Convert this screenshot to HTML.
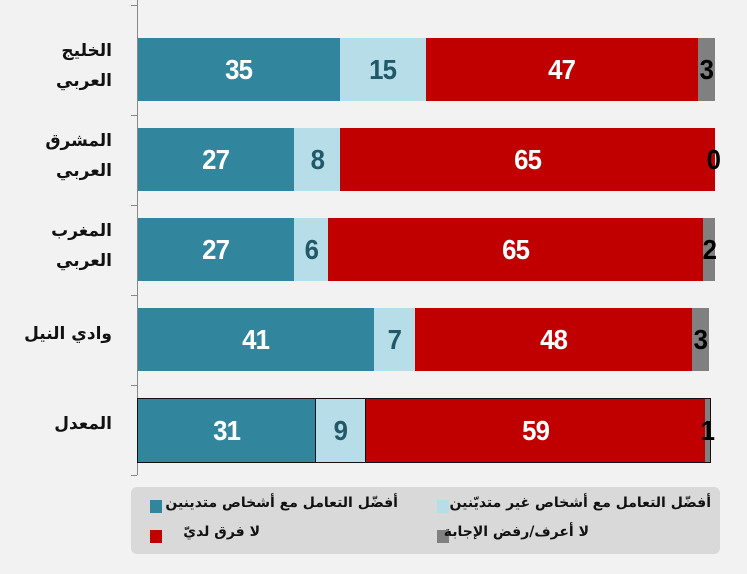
<!DOCTYPE html>
<html><head><meta charset="utf-8"><style>
body{margin:0;width:747px;height:574px;background:#f2f2f2;position:relative;overflow:hidden;font-family:"Liberation Sans","DejaVu Sans",sans-serif}
.ax{position:absolute;left:137px;top:0;width:1px;height:475px;background:#888}
.tk{position:absolute;left:131px;width:6px;height:1px;background:#888}
.bar{position:absolute;left:138px;height:63px;display:flex}
.s{height:100%;display:flex;align-items:center;justify-content:center;font-weight:bold;font-size:28px;color:#fff;box-sizing:border-box;letter-spacing:-1px}
.s span{display:inline-block;transform:scaleX(0.92)}
.a{background:#31859c}.b{background:#b7dde8;color:#215968}.c{background:#c00000}.d{background:#808080;color:#000}
.lab{position:absolute;right:635px;width:120px;text-align:right;font-weight:bold;font-size:17px;line-height:30px;direction:rtl;font-family:"DejaVu Sans",sans-serif;color:#111}
.leg{position:absolute;left:131px;top:487px;width:589px;height:67px;background:#d9d9d9;border-radius:6px}
.li{position:absolute;font-weight:bold;font-size:14px;direction:rtl;font-family:"DejaVu Sans",sans-serif;color:#111;white-space:nowrap}
.sq{position:absolute;width:12px;height:13px}
</style></head><body>
<div class="ax"></div>
<div class="tk" style="top:5px"></div><div class="tk" style="top:115px"></div><div class="tk" style="top:205px"></div><div class="tk" style="top:295px"></div><div class="tk" style="top:385px"></div><div class="tk" style="top:475px"></div>

<div class="lab" style="top:36px">الخليج<br>العربي</div>
<div class="lab" style="top:126px">المشرق<br>العربي</div>
<div class="lab" style="top:216px">المغرب<br>العربي</div>
<div class="lab" style="top:319px">وادي النيل</div>
<div class="lab" style="top:409px">المعدل</div>

<div class="bar" style="top:38px"><div class="s a" style="width:202px"><span>35</span></div><div class="s b" style="width:86px"><span>15</span></div><div class="s c" style="width:272px"><span>47</span></div><div class="s d" style="width:17px"><span>3</span></div></div>
<div class="bar" style="top:128px"><div class="s a" style="width:156px"><span>27</span></div><div class="s b" style="width:46px"><span>8</span></div><div class="s c" style="width:375px"><span>65</span></div><div class="s" style="width:0;color:#000;position:relative;left:-2px"><span>0</span></div></div>
<div class="bar" style="top:218px"><div class="s a" style="width:156px"><span>27</span></div><div class="s b" style="width:34px"><span>6</span></div><div class="s c" style="width:375px"><span>65</span></div><div class="s d" style="width:12px"><span>2</span></div></div>
<div class="bar" style="top:308px"><div class="s a" style="width:236px"><span>41</span></div><div class="s b" style="width:41px"><span>7</span></div><div class="s c" style="width:277px"><span>48</span></div><div class="s d" style="width:17px"><span>3</span></div></div>
<div class="bar" style="top:398px;border:1px solid #111;height:63px;left:137px"><div class="s a" style="width:178px;border-right:1px solid #111"><span>31</span></div><div class="s b" style="width:50px;border-right:1px solid #111"><span>9</span></div><div class="s c" style="width:339px"><span>59</span></div><div class="s d" style="width:5px"><span>1</span></div></div>

<div class="leg"></div>
<div class="sq a" style="left:150px;top:500px"></div>
<div class="li" style="right:349px;top:495px">أفضّل التعامل مع أشخاص متدينين</div>
<div class="sq b" style="left:437px;top:500px"></div>
<div class="li" style="right:36px;top:495px">أفضّل التعامل مع أشخاص غير متديّنين</div>
<div class="sq c" style="left:150px;top:530px"></div>
<div class="li" style="right:487px;top:524px">لا فرق لديّ</div>
<div class="sq d" style="left:437px;top:530px"></div>
<div class="li" style="right:158px;top:524px">لا أعرف/رفض الإجابة</div>
</body></html>
